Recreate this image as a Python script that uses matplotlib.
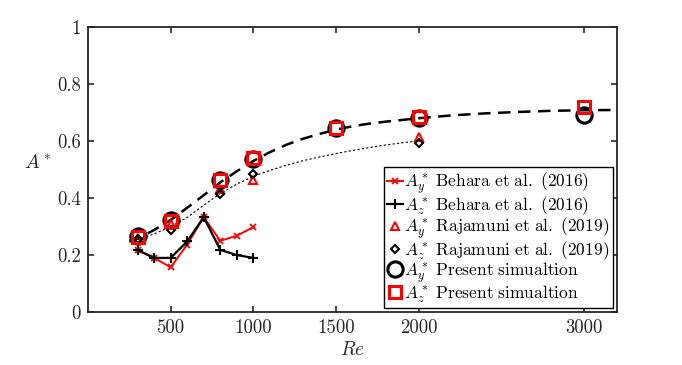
import numpy as np
import matplotlib
matplotlib.use('Agg')
import matplotlib.pyplot as plt

plt.rcParams['font.family'] = 'cmr10'
plt.rcParams['mathtext.fontset'] = 'cm'
plt.rcParams['axes.formatter.use_mathtext'] = True

# ── Dati ──────────────────────────────────────────────────────────────
re_beh    = [300, 400, 500, 600, 700, 800, 900, 1000]
ay_beh    = [0.217, 0.19, 0.157, 0.237, 0.333, 0.25, 0.268, 0.298]
az_beh    = [0.218, 0.19, 0.19, 0.248, 0.333, 0.218, 0.20, 0.19]

re_raj    = [300, 500, 800, 1000, 2000]
ay_raj    = [0.26, 0.31, 0.43, 0.463, 0.614]
az_raj    = [0.256, 0.288, 0.414, 0.484, 0.594]

re_pres   = [300, 500, 800, 1000, 1500, 2000, 3000]
ay_pres   = [0.268, 0.322, 0.462, 0.537, 0.645, 0.68, 0.692]
az_pres   = [0.262, 0.32, 0.465, 0.54, 0.645, 0.685, 0.72]

# curve di fit
re_fit1   = [250, 300, 400, 500, 600, 700, 800, 900, 1000, 1100, 1200, 1300, 1400,
             1500, 1600, 1700, 1800, 1900, 2000, 2200, 2400, 2600, 2800, 3000, 3200]
a_fit1    = [0.25, 0.258, 0.288, 0.323, 0.366, 0.41, 0.455, 0.494, 0.53, 0.561, 0.587,
             0.608, 0.625, 0.64, 0.652, 0.661, 0.668, 0.674, 0.68, 0.69, 0.697, 0.702,
             0.706, 0.708, 0.709]
re_fit2   = [250, 300, 400, 500, 600, 700, 800, 900, 1000, 1100, 1200, 1300, 1400,
             1500, 1600, 1700, 1800, 1900, 2000]
a_fit2    = [0.245, 0.254, 0.274, 0.30, 0.332, 0.375, 0.416, 0.449, 0.476, 0.497, 0.515,
             0.531, 0.544, 0.556, 0.567, 0.577, 0.586, 0.594, 0.60]

labels = [r'$A_y^*\ \mathrm{Behara\ et\ al.\ (2016)}$',
          r'$A_z^*\ \mathrm{Behara\ et\ al.\ (2016)}$',
          r'$A_y^*\ \mathrm{Rajamuni\ et\ al.\ (2019)}$',
          r'$A_z^*\ \mathrm{Rajamuni\ et\ al.\ (2019)}$',
          r'$A_y^*\ \mathrm{Present\ simualtion}$',
          r'$A_z^*\ \mathrm{Present\ simualtion}$']

xticks      = [500, 1000, 1500, 2000, 3000]
yticks      = [0, 0.2, 0.4, 0.6, 0.8, 1.0]
ytick_lbls  = ['0', '0.2', '0.4', '0.6', '0.8', '1']

# ── Plot ──────────────────────────────────────────────────────────────
fig = plt.figure(figsize=(6.82, 3.65), dpi=100)
ax = fig.add_axes([0.129, 0.145, 0.776, 0.781])

ax.plot(re_fit1, a_fit1, color='k', ls=(0, (5, 3)), lw=1.8, zorder=2)
ax.plot(re_fit2, a_fit2, color='k', ls=(0, (2, 2)), lw=0.8, zorder=2)

ax.plot(re_beh, ay_beh, color='red', marker='x', ms=5, mew=1.3, lw=1.4,
        label=labels[0], zorder=3)
ax.plot(re_beh, az_beh, color='k', marker='+', ms=7, mew=1.5, lw=1.6,
        label=labels[1], zorder=3)
ax.plot(re_raj, ay_raj, ls='none', marker='^', ms=6, mfc='none', mec='red', mew=1.5,
        label=labels[2], zorder=3)
ax.plot(re_raj, az_raj, ls='none', marker='D', ms=4.5, mfc='none', mec='k', mew=1.5,
        label=labels[3], zorder=3)
ax.plot(re_pres, ay_pres, ls='none', marker='o', ms=11, mfc='none', mec='k', mew=2.2,
        label=labels[4], zorder=4)
ax.plot(re_pres, az_pres, ls='none', marker='s', ms=9, mfc='none', mec='red', mew=2.2,
        label=labels[5], zorder=5)

ax.set_xlim(0, 3200)
ax.set_ylim(0, 1)
ax.set_xticks(xticks)
ax.set_xticklabels([str(v) for v in xticks])
ax.set_yticks(yticks)
ax.set_yticklabels(ytick_lbls)
ax.tick_params(direction='in', top=True, right=True, length=4, width=1.2,
               labelsize=13.5, colors='#262626', pad=5)
for sp in ax.spines.values():
    sp.set_linewidth(1.3)
    sp.set_color('#262626')

ax.set_xlabel(r'$Re$', fontsize=14, color='#262626', labelpad=3)
ax.set_ylabel(r'$A^*$', fontsize=14, rotation=0, color='#262626')
ax.yaxis.set_label_coords(-0.095, 0.49)

leg = ax.legend(loc='lower right', bbox_to_anchor=(0.992, 0.014), fontsize=12.5,
                frameon=True, fancybox=False, edgecolor='k', framealpha=1,
                handlelength=0.9, handletextpad=0.1, labelspacing=-0.1,
                borderpad=0.2, borderaxespad=0.0)
leg.get_frame().set_linewidth(1.0)

fig.savefig('out.png', dpi=100)
